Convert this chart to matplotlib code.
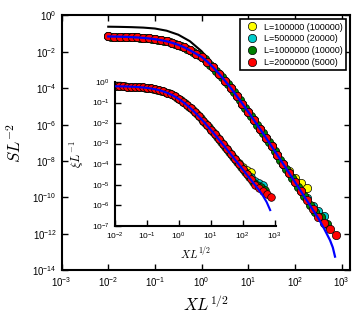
import numpy as np
import matplotlib
matplotlib.use('Agg')
import matplotlib.pyplot as plt
from matplotlib.ticker import NullLocator

plt.rcParams['font.family'] = ['Liberation Sans', 'DejaVu Sans']

# data, stored as log10 values
log_x = [-2.0, -1.875, -1.75, -1.625, -1.5, -1.375, -1.25, -1.125, -1.0, -0.875,
         -0.75, -0.625, -0.5, -0.375, -0.25, -0.125, 0.0, 0.125, 0.25, 0.375,
         0.5, 0.625, 0.75, 0.875, 1.0, 1.125, 1.25, 1.375, 1.5, 1.625,
         1.75, 1.875, 2.0, 2.125, 2.25, 2.375, 2.5, 2.625, 2.75, 2.875]
# L=1000000 points sit between the others
log_x_green = [-1.9375, -1.8125, -1.6875, -1.5625, -1.4375, -1.3125, -1.1875, -1.0625, -0.9375, -0.8125,
               -0.6875, -0.5625, -0.4375, -0.3125, -0.1875, -0.0625, 0.0625, 0.1875, 0.3125, 0.4375,
               0.5625, 0.6875, 0.8125, 0.9375, 1.0625, 1.1875, 1.3125, 1.4375, 1.5625, 1.6875,
               1.8125, 1.9375, 2.0625, 2.1875, 2.3125, 2.4375, 2.5625, 2.6875]

# main panel: S L^-2
main_master = [-1.157, -1.163, -1.171, -1.181, -1.194, -1.212, -1.235, -1.266, -1.306, -1.358,
               -1.424, -1.510, -1.617, -1.751, -1.915, -2.10, -2.28, -2.55, -2.86, -3.21,
               -3.59, -3.99, -4.42, -4.858, -5.306, -5.766, -6.235, -6.712, -7.194, -7.681,
               -8.170, -8.662, -9.157, -9.654, -10.150, -10.647, -11.146, -11.644, -12.143, -12.642]
main_green = [-1.160, -1.167, -1.175, -1.187, -1.202, -1.223, -1.249, -1.284, -1.330, -1.389,
              -1.465, -1.560, -1.681, -1.829, -2.009, -2.19, -2.41, -2.70, -3.03, -3.40,
              -3.79, -4.20, -4.639, -5.080, -5.535, -5.999, -6.473, -6.952, -7.437, -7.925,
              -8.417, -8.910, -9.405, -9.901, -10.399, -10.80, -11.10, -11.44]
# last points of the other L where they leave the common curve
main_tail_1 = [-8.56, -8.91, -9.20, -9.50]
main_tail_2 = [-10.05, -10.45, -10.75, -11.04]
main_tail_4 = [-11.08, -11.40, -11.75, -12.04]

blue_main_x = log_x[:37] + [2.625, 2.75, 2.81, 2.857]
blue_main_y = main_master[:37] + [-11.72, -12.35, -12.75, -13.25]

black_x = [-2.0, -1.75, -1.5, -1.25, -1.0, -0.75, -0.5, -0.25, 0.0, 0.25, 0.5, 0.75, 1.0, 1.25, 1.5]
black_y = [-0.62, -0.63, -0.645, -0.67, -0.72, -0.84, -1.06, -1.42, -1.97, -2.72, -3.55, -4.40, -5.29, -6.22, -7.19]

# inset: xi L^-1
ins_master = [-0.209, -0.212, -0.216, -0.221, -0.228, -0.238, -0.250, -0.266, -0.287, -0.314,
              -0.349, -0.394, -0.450, -0.519, -0.604, -0.705, -0.825, -0.962, -1.116, -1.287,
              -1.473, -1.671, -1.880, -2.098, -2.324, -2.555, -2.790, -3.029, -3.270, -3.514,
              -3.759, -4.006, -4.253, -4.501, -4.749, -4.998, -5.247, -5.497, -5.746, -5.996]
ins_green = [-0.211, -0.214, -0.219, -0.225, -0.233, -0.243, -0.257, -0.276, -0.300, -0.330,
             -0.370, -0.420, -0.483, -0.559, -0.652, -0.763, -0.891, -1.037, -1.200, -1.378,
             -1.570, -1.774, -1.988, -2.210, -2.438, -2.672, -2.909, -3.149, -3.392, -3.636,
             -3.882, -4.129, -4.377, -4.625, -4.874, -5.00, -5.12, -5.24]
ins_tail_1 = [-3.96, -4.13, -4.28, -4.37]
ins_tail_2 = [-4.65, -4.80, -4.90, -5.00]
ins_tail_4 = [-5.17, -5.32, -5.47, -5.60]

blue_ins_x = log_x[:37] + [2.625, 2.75, 2.86]
blue_ins_y = ins_master[:37] + [-5.52, -5.85, -6.24]

labels = ['L=100000 (100000)', 'L=500000 (20000)', 'L=1000000 (10000)', 'L=2000000 (5000)']
colors = ['#ffff00', '#00cccc', '#008000', '#ff0000']
ends = [35, 38, 40]


def pts(lx, ly):
    return 10.0 ** np.array(lx), 10.0 ** np.array(ly)


def tailed(master, tail, end):
    return pts(log_x[:end], master[:end - len(tail)] + tail)


fig = plt.figure(figsize=(3.6, 3.21), dpi=100)
ax = fig.add_axes([0.171, 0.158, 0.801, 0.794])
ax.set_xscale('log'); ax.set_yscale('log')

mk = dict(marker='o', ls='none', mec='k', mew=0.5)
ax.plot(*pts(black_x, black_y), color='k', lw=1.5, zorder=1)
ax.plot(*tailed(main_master, main_tail_1, ends[0]), ms=6, mfc=colors[0], label=labels[0], **mk)
ax.plot(*tailed(main_master, main_tail_2, ends[1]), ms=6, mfc=colors[1], label=labels[1], **mk)
ax.plot(*pts(log_x_green, main_green), ms=6, mfc=colors[2], label=labels[2], **mk)
ax.plot(*tailed(main_master, main_tail_4, ends[2]), ms=6, mfc=colors[3], label=labels[3], **mk)
ax.plot(*pts(blue_main_x, blue_main_y), color='#0000ff', lw=1.6, zorder=3)

ax.set_xlim(1e-3, 1.5e3); ax.set_ylim(1e-14, 1)
ax.set_xticks([10.0 ** e for e in range(-3, 4)])
ax.set_yticks([10.0 ** e for e in range(-14, 1, 2)])
ax.xaxis.set_minor_locator(NullLocator()); ax.yaxis.set_minor_locator(NullLocator())
ax.tick_params(direction='in', length=4, width=1, top=True, right=True, labelsize=7)
for s in ax.spines.values():
    s.set_linewidth(1.5)
ax.set_xlabel(r'$XL^{1/2}$', fontsize=12, math_fontfamily='cm')
ax.set_ylabel(r'$SL^{-2}$', fontsize=12, math_fontfamily='cm', labelpad=6)

leg = ax.legend(loc='upper right', fontsize=6.5, numpoints=1, fancybox=False, framealpha=1,
                edgecolor='k', borderaxespad=0.4, handletextpad=0.3, labelspacing=0.3)
leg.get_frame().set_linewidth(1.2)

# inset
axi = fig.add_axes([0.3186, 0.2969, 0.448, 0.4477])
axi.set_xscale('log'); axi.set_yscale('log')
axi.patch.set_alpha(0)
axi.plot(*tailed(ins_master, ins_tail_1, ends[0]), ms=5.5, mfc=colors[0], **mk)
axi.plot(*tailed(ins_master, ins_tail_2, ends[1]), ms=5.5, mfc=colors[1], **mk)
axi.plot(*pts(log_x_green, ins_green), ms=5.5, mfc=colors[2], **mk)
axi.plot(*tailed(ins_master, ins_tail_4, ends[2]), ms=5.5, mfc=colors[3], **mk)
axi.plot(*pts(blue_ins_x, blue_ins_y), color='#0000ff', lw=1.5, zorder=3)
axi.set_xlim(1e-2, 1.1e3); axi.set_ylim(1e-7, 1)
axi.set_xticks([10.0 ** e for e in range(-2, 4)])
axi.set_yticks([10.0 ** e for e in range(-7, 1)])
axi.xaxis.set_minor_locator(NullLocator()); axi.yaxis.set_minor_locator(NullLocator())
axi.spines['top'].set_visible(False); axi.spines['right'].set_visible(False)
for s in ['left', 'bottom']:
    axi.spines[s].set_linewidth(1.5)
axi.tick_params(direction='in', length=4, width=1, labelsize=6)
axi.set_xlabel(r'$XL^{1/2}$', fontsize=8, math_fontfamily='cm', labelpad=2)
axi.set_ylabel(r'$\xi L^{-1}$', fontsize=9, math_fontfamily='cm', labelpad=4)

fig.savefig('out.png', dpi=100)
